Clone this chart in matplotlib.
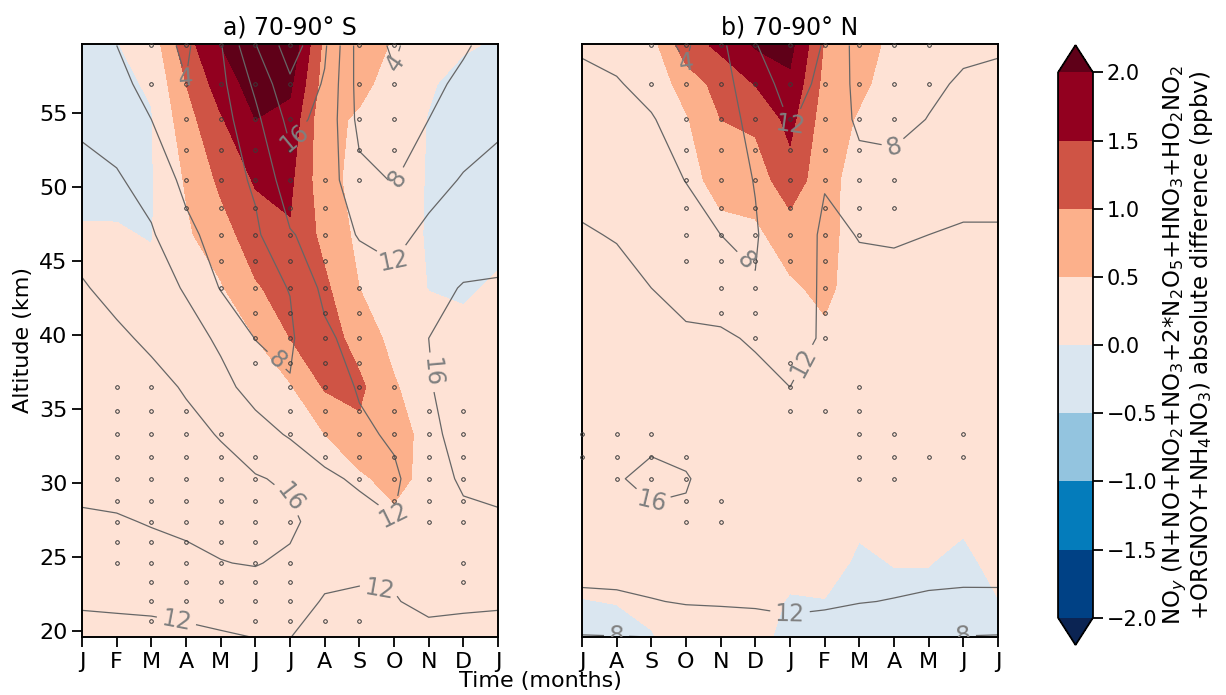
import numpy as np
import matplotlib
matplotlib.use("Agg")
import matplotlib.pyplot as plt
from matplotlib.colors import ListedColormap, BoundaryNorm

# month tick labels (panel a starts in January, panel b in July)
months_S = ['J', 'F', 'M', 'A', 'M', 'J', 'J', 'A', 'S', 'O', 'N', 'D', 'J']
months_N = ['J', 'A', 'S', 'O', 'N', 'D', 'J', 'F', 'M', 'A', 'M', 'J', 'J']

# altitude nodes (km) of the value tables below, bottom -> top
alt_nodes = [19.6, 22.0, 24.6, 27.4, 30.3, 33.3, 36.5, 39.8, 43.2, 46.8, 50.5, 54.6, 57.0, 59.6]

# NOy absolute difference (ppbv), one list per month, values bottom -> top
diff_S = [
    [0.15, 0.15, 0.15, 0.15, 0.15, 0.15, 0.15, 0.15, 0.1, 0.05, -0.15, -0.2, -0.2, -0.15],
    [0.2, 0.2, 0.2, 0.2, 0.2, 0.2, 0.2, 0.15, 0.1, 0.03, -0.1, -0.15, -0.1, -0.02],
    [0.2, 0.2, 0.2, 0.2, 0.2, 0.2, 0.2, 0.2, 0.1, -0.02, -0.03, -0.03, 0.05, 0.2],
    [0.2, 0.2, 0.2, 0.2, 0.2, 0.2, 0.2, 0.25, 0.3, 0.42, 0.55, 0.8, 1.0, 1.3],
    [0.15, 0.15, 0.2, 0.2, 0.2, 0.2, 0.25, 0.3, 0.45, 0.8, 1.1, 1.45, 1.75, 2.0],
    [0.15, 0.15, 0.15, 0.2, 0.2, 0.25, 0.3, 0.5, 0.95, 1.25, 1.55, 2.0, 2.2, 2.4],
    [0.15, 0.15, 0.15, 0.2, 0.22, 0.28, 0.45, 1.0, 1.2, 1.45, 1.6, 1.85, 2.1, 2.4],
    [0.15, 0.15, 0.2, 0.2, 0.3, 0.5, 1.05, 1.25, 1.1, 0.85, 0.65, 0.6, 0.75, 0.85],
    [0.15, 0.15, 0.2, 0.25, 0.4, 0.9, 1.1, 0.8, 0.5, 0.38, 0.35, 0.45, 0.6, 0.75],
    [0.15, 0.15, 0.15, 0.35, 0.7, 0.75, 0.55, 0.35, 0.2, 0.15, 0.2, 0.25, 0.35, 0.45],
    [0.15, 0.15, 0.15, 0.2, 0.3, 0.3, 0.2, 0.15, -0.01, -0.03, -0.03, -0.02, 0.05, 0.15],
    [0.15, 0.15, 0.15, 0.15, 0.15, 0.15, 0.15, 0.1, -0.05, -0.2, -0.25, -0.25, -0.15, 0.05],
    [0.15, 0.15, 0.15, 0.15, 0.15, 0.15, 0.15, 0.1, 0.05, -0.1, -0.2, -0.2, -0.15, -0.05],
]
diff_N = [
    [-0.12, -0.01, 0.12, 0.2, 0.2, 0.2, 0.2, 0.2, 0.2, 0.2, 0.2, 0.2, 0.2, 0.15],
    [-0.1, 0.01, 0.12, 0.2, 0.2, 0.2, 0.2, 0.2, 0.2, 0.2, 0.2, 0.2, 0.2, 0.25],
    [-0.02, 0.08, 0.15, 0.2, 0.2, 0.2, 0.2, 0.2, 0.2, 0.2, 0.25, 0.3, 0.2, 0.3],
    [0.15, 0.2, 0.2, 0.25, 0.25, 0.25, 0.25, 0.25, 0.3, 0.35, 0.38, 0.45, 0.7, 1.3],
    [0.15, 0.2, 0.2, 0.25, 0.25, 0.25, 0.25, 0.3, 0.3, 0.4, 0.62, 1.0, 1.2, 1.6],
    [0.1, 0.15, 0.2, 0.2, 0.25, 0.25, 0.3, 0.3, 0.35, 0.4, 0.75, 1.1, 1.52, 2.05],
    [-0.1, -0.03, 0.12, 0.25, 0.3, 0.3, 0.35, 0.35, 0.42, 0.75, 1.3, 1.65, 1.9, 2.15],
    [-0.1, -0.01, 0.12, 0.2, 0.2, 0.25, 0.3, 0.4, 0.62, 0.7, 0.68, 0.75, 0.85, 0.95],
    [-0.15, -0.12, -0.05, 0.05, 0.15, 0.2, 0.2, 0.2, 0.25, 0.22, 0.28, 0.45, 0.6, 0.75],
    [-0.1, -0.08, 0.01, 0.08, 0.15, 0.2, 0.2, 0.2, 0.2, 0.2, 0.2, 0.25, 0.3, 0.35],
    [-0.1, -0.08, 0.01, 0.08, 0.15, 0.2, 0.2, 0.2, 0.2, 0.2, 0.2, 0.2, 0.2, 0.25],
    [-0.1, -0.1, -0.08, 0.05, 0.15, 0.2, 0.2, 0.2, 0.2, 0.2, 0.2, 0.2, 0.2, 0.2],
    [-0.1, -0.01, 0.1, 0.15, 0.2, 0.2, 0.2, 0.2, 0.2, 0.2, 0.2, 0.2, 0.2, 0.15],
]

# reference NOy field (ppbv) drawn as grey contour lines, one list per month
noy_S = [
    [10.5, 12.5, 14.5, 15.6, 16.8, 17.5, 17.5, 17.2, 16.3, 14.8, 13.2, 11.3, 10.3, 9.3],
    [10.8, 12.6, 14.6, 15.7, 17.2, 17.8, 17.6, 16.6, 15.0, 13.6, 12.4, 10.4, 9.2, 8.0],
    [11.0, 12.7, 14.8, 16.2, 17.5, 17.8, 17.0, 15.4, 14.0, 12.4, 10.6, 8.0, 6.6, 5.5],
    [11.3, 13.0, 15.3, 16.6, 17.3, 16.9, 15.7, 13.7, 11.6, 9.0, 7.0, 5.2, 4.1, 3.4],
    [11.7, 13.3, 15.9, 17.0, 17.1, 15.8, 13.2, 11.3, 7.8, 6.4, 6.0, 6.3, 7.0, 7.7],
    [12.05, 14.0, 16.2, 17.0, 16.3, 13.6, 10.5, 7.9, 7.0, 7.3, 8.6, 11.0, 12.8, 15.8],
    [12.05, 13.6, 15.3, 16.8, 15.4, 11.6, 8.2, 7.5, 8.1, 11.7, 14.3, 17.2, 19.3, 22.0],
    [10.8, 11.7, 13.2, 14.2, 12.5, 10.6, 9.6, 11.2, 13.0, 13.6, 14.2, 14.9, 15.6, 16.6],
    [10.6, 11.6, 12.6, 13.0, 11.6, 11.2, 12.4, 13.6, 13.6, 11.8, 9.0, 6.9, 6.5, 6.3],
    [10.5, 11.8, 12.6, 12.1, 11.3, 12.6, 13.8, 14.3, 13.1, 10.9, 7.8, 5.5, 4.5, 3.4],
    [11.0, 12.8, 14.0, 14.6, 14.8, 15.2, 15.8, 16.0, 15.0, 12.9, 10.6, 8.0, 7.2, 6.6],
    [10.8, 12.6, 14.3, 15.4, 16.4, 17.2, 17.4, 17.0, 16.2, 14.3, 12.3, 10.0, 8.7, 7.6],
    [10.5, 12.5, 14.5, 15.6, 16.8, 17.5, 17.5, 17.2, 16.3, 14.8, 13.2, 11.3, 10.3, 9.3],
]
noy_N = [
    [7.8, 11.2, 13.4, 14.6, 15.2, 15.0, 14.6, 14.0, 13.2, 12.3, 11.0, 9.6, 8.6, 7.7],
    [7.9, 11.3, 13.6, 15.0, 15.8, 15.5, 14.8, 13.9, 13.0, 11.8, 10.6, 9.2, 8.3, 6.8],
    [8.0, 11.8, 14.0, 15.5, 16.6, 15.4, 14.2, 13.2, 12.0, 10.8, 9.7, 8.3, 6.8, 5.2],
    [9.0, 12.3, 14.2, 15.6, 16.2, 15.0, 13.8, 12.5, 11.0, 9.8, 7.9, 6.0, 4.6, 3.5],
    [9.5, 12.4, 13.8, 14.6, 14.8, 14.4, 13.6, 12.5, 10.3, 8.0, 6.8, 6.3, 6.5, 7.2],
    [10.0, 12.5, 13.6, 14.2, 14.3, 13.8, 13.0, 11.6, 8.1, 7.8, 8.1, 9.2, 10.4, 11.8],
    [10.9, 12.6, 13.5, 14.0, 14.0, 13.3, 12.0, 10.8, 10.0, 9.8, 10.2, 12.2, 13.3, 14.6],
    [10.4, 12.5, 13.2, 13.6, 13.4, 12.6, 12.2, 12.4, 12.6, 12.6, 11.8, 11.0, 11.2, 11.7],
    [10.2, 12.1, 13.0, 13.6, 13.8, 13.8, 13.6, 13.2, 12.6, 11.9, 9.5, 7.2, 6.8, 6.5],
    [9.8, 11.9, 13.0, 13.8, 14.2, 14.3, 14.0, 13.4, 12.6, 11.8, 9.2, 7.0, 6.4, 6.0],
    [9.5, 11.6, 13.0, 14.0, 14.6, 14.8, 14.5, 13.8, 12.9, 12.0, 10.2, 8.1, 7.4, 6.8],
    [7.9, 11.3, 13.2, 14.3, 14.9, 15.0, 14.7, 14.0, 13.1, 12.3, 11.0, 9.4, 8.4, 7.4],
    [7.8, 11.2, 13.4, 14.6, 15.2, 15.0, 14.6, 14.0, 13.2, 12.3, 11.0, 9.6, 8.6, 7.7],
]

# significance stippling: model levels (top -> bottom), 'o' marks a dot per month
stip_alts = [59.6, 57.0, 54.6, 52.5, 50.5, 48.6, 46.8, 45.0, 43.2, 41.5, 39.8, 38.1,
             36.5, 34.9, 33.3, 31.8, 30.3, 28.8, 27.4, 26.0, 24.6, 23.3, 22.0, 20.7]
stip_S = [
    "..ooooo.oo...", "..ooooo.oo...", "...oooo.oo...", "...oooo.oo...",
    "...oooooo....", "...ooooo.....", "....oooo.....", "....oooo.....",
    "....ooooo....", ".....oooo....", ".....oooo....", ".....oooo....",
    ".oo...oooo...", ".ooo..oooooo.", ".oooo.oooooo.", ".ooooo.ooooo.",
    ".ooooo..oooo.", ".ooooo...ooo.", ".oooooo...oo.", ".ooooo.......",
    ".oooooo....o.", "..ooooo....o.", "..ooooo......", "..o..oooo....",
]
stip_N = [
    "..ooooooooo..", "..ooooooooo..", "...ooooooo...", "...oooooo....",
    "...ooooooo...", "...ooooooo...", "...oooooo....", "...ooooo.....",
    "....oo.o.....", "....oo.o.....", ".....o.o.....", "......o......",
    "......o.o....", "......ooo....", "ooo.....oo.o.", "oooo....oooo.",
    ".ooo....oo...", "...oo........", "...oo........", ".............",
    ".............", ".............", ".............", ".............",
]

diff_levels = [-2.0, -1.5, -1.0, -0.5, 0.0, 0.5, 1.0, 1.5, 2.0]
line_levels = [4, 8, 12, 16, 20]

# label spots (month index, km) for the grey contour labels
labels_S = [(3.0, 56.7), (9.03, 58.4), (6.06, 53.5), (9.1, 50.6), (9.03, 44.7),
            (5.57, 38.2), (10.1, 37.5), (6.06, 29.2), (9.03, 27.8), (2.74, 20.9), (8.54, 22.2)]
labels_N = [(3.0, 57.8), (6.0, 53.9), (9.04, 52.5), (4.8, 45.2), (7.0, 37.4),
            (2.0, 28.6), (6.0, 20.7), (1.0, 19.9), (11.0, 19.9)]

fill_colors = ['#004185', '#047cbb', '#93c4df', '#dae6f0',
               '#fee2d5', '#fcb08b', '#cf5445', '#92001f']
cmap = ListedColormap(fill_colors)
cmap.set_under('#0b2453')
cmap.set_over('#5f0018')
norm = BoundaryNorm(diff_levels, cmap.N)

fig = plt.figure(figsize=(12.26, 6.95), dpi=100)
ax_a = fig.add_axes([0.0669, 0.0835, 0.3393, 0.8532])
ax_b = fig.add_axes([0.4747, 0.0835, 0.3393, 0.8532])
cax = fig.add_axes([0.863, 0.072, 0.0285, 0.863])

x = np.arange(13)
panels = [
    (ax_a, diff_S, noy_S, stip_S, labels_S, months_S, 'a) 70-90° S'),
    (ax_b, diff_N, noy_N, stip_N, labels_N, months_N, 'b) 70-90° N'),
]

for ax, diff, noy, stip, lab_pos, mlabels, title in panels:
    Z = np.array(diff).T
    B = np.array(noy).T
    cf = ax.contourf(x, alt_nodes, Z, levels=diff_levels, cmap=cmap, norm=norm, extend='both')
    cs = ax.contour(x, alt_nodes, B, levels=line_levels, colors='#666666', linewidths=0.9)
    ax.clabel(cs, fmt='%d', fontsize=17, colors='#808080', manual=lab_pos, inline=True)

    for alt, row in zip(stip_alts, stip):
        xs = [i for i, c in enumerate(row) if c == 'o']
        ax.plot(xs, [alt] * len(xs), 'o', ms=2.6, mfc='none', mec='#3a3a3a', mew=0.7,
                clip_on=False, zorder=3)

    ax.set_xlim(0, 12)
    ax.set_ylim(19.6, 59.7)
    ax.set_xticks(x)
    ax.set_xticklabels(mlabels)
    ax.set_title(title, fontsize=17, pad=7)
    ax.tick_params(labelsize=16, length=7, width=1.3)
    for sp in ax.spines.values():
        sp.set_linewidth(1.4)

ax_a.set_yticks([20, 25, 30, 35, 40, 45, 50, 55])
ax_a.set_ylabel('Altitude (km)', fontsize=16, labelpad=4)
ax_b.tick_params(left=False, labelleft=False)

fig.text(0.4405, 0.006, 'Time (months)', ha='center', va='bottom', fontsize=16)

cb = fig.colorbar(cf, cax=cax, ticks=diff_levels, extendfrac=0.05)
cb.ax.set_yticklabels([('%.1f' % v).replace('-', '\u2212') for v in diff_levels])
cb.ax.tick_params(labelsize=15, length=7, width=1.3, pad=3)
cb.outline.set_linewidth(1.3)
cb.set_label('NO$_y$ (N+NO+NO$_2$+NO$_3$+2*N$_2$O$_5$+HNO$_3$+HO$_2$NO$_2$\n'
             '+ORGNOY+NH$_4$NO$_3$) absolute difference (ppbv)', fontsize=16.5,
             labelpad=2, linespacing=0.95)

fig.savefig('out.png', dpi=100)
